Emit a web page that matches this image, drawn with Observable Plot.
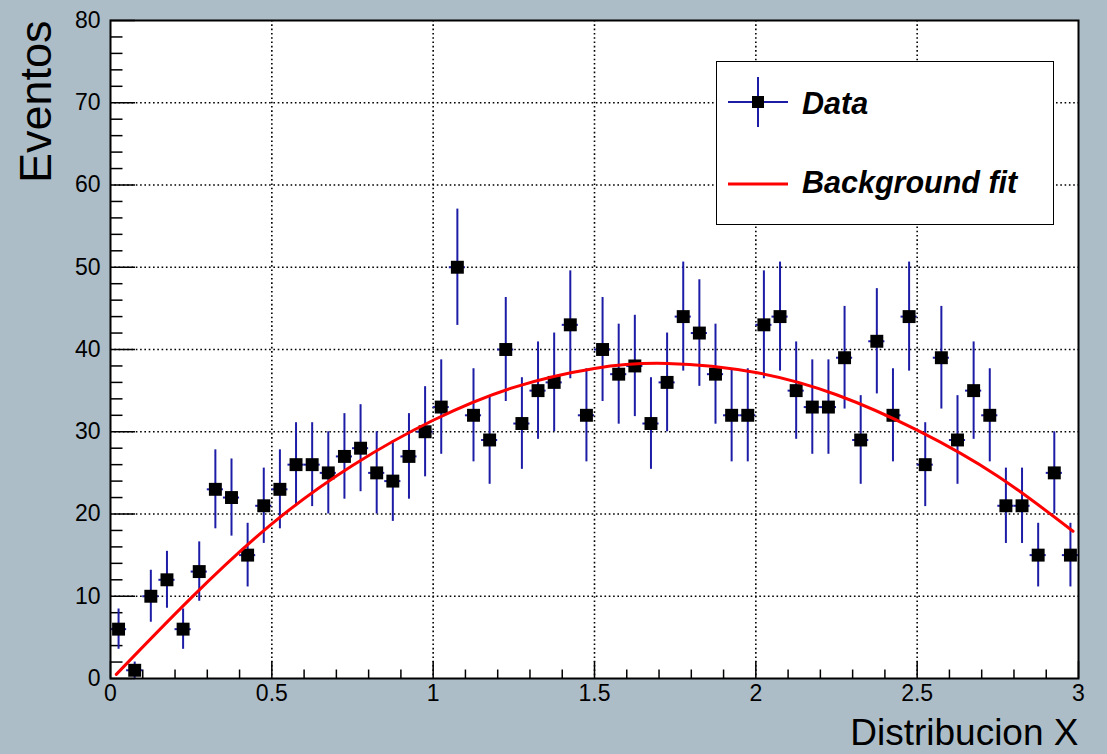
<!DOCTYPE html>
<html><head><meta charset="utf-8">
<script src="https://cdn.jsdelivr.net/npm/d3@7"></script>
<script src="https://cdn.jsdelivr.net/npm/@observablehq/plot@0.6"></script>
<style>
html,body{margin:0;padding:0;background:#adbdc7;}
#wrap{position:relative;width:1107px;height:754px;font-family:"Liberation Sans",Arial,sans-serif;overflow:hidden;}
#wrap svg.plot{position:absolute;left:0;top:0;}
#legend{position:absolute;left:716px;top:61px;width:338px;height:164px;box-sizing:border-box;border:1.5px solid #000;background:#fff;}
#legend svg{position:absolute;left:-1.5px;top:-1.5px;}
</style></head><body><div id="wrap"></div>
<script>
// Histogram bin centers (bin width 0.05)
const binCenters = [0.025,0.075,0.125,0.175,0.225,0.275,0.325,0.375,0.425,0.475,
  0.525,0.575,0.625,0.675,0.725,0.775,0.825,0.875,0.925,0.975,
  1.025,1.075,1.125,1.175,1.225,1.275,1.325,1.375,1.425,1.475,
  1.525,1.575,1.625,1.675,1.725,1.775,1.825,1.875,1.925,1.975,
  2.025,2.075,2.125,2.175,2.225,2.275,2.325,2.375,2.425,2.475,
  2.525,2.575,2.625,2.675,2.725,2.775,2.825,2.875,2.925,2.975];
const binHalfWidth = 0.025;
const counts = [6,1,10,12,6,13,23,22,15,21,
  23,26,26,25,27,28,25,24,27,30,
  33,50,32,29,40,31,35,36,43,32,
  40,37,38,31,36,44,42,37,32,32,
  43,44,35,33,33,39,29,41,32,44,
  26,39,29,35,32,21,21,15,25,15];
const errors = [2.45,1.00,3.16,3.46,2.45,3.61,4.80,4.69,3.87,4.58,
  4.80,5.10,5.10,5.00,5.20,5.29,5.00,4.90,5.20,5.48,
  5.74,7.07,5.66,5.39,6.32,5.57,5.92,6.00,6.56,5.66,
  6.32,6.08,6.16,5.57,6.00,6.63,6.48,6.08,5.66,5.66,
  6.56,6.63,5.92,5.74,5.74,6.24,5.39,6.40,5.66,6.63,
  5.10,6.24,5.39,5.92,5.66,4.58,4.58,3.87,5.00,3.87];
// Background fit curve
const fitX = [0.018,0.25,0.5,0.75,1.0,1.25,1.5,1.725,2.0,2.25,2.5,2.75,2.983];
const fitY = [0.5,9.8,18.8,25.9,31.4,35.4,37.7,38.3,37.2,34.5,30.2,24.6,17.9];
// Axes
const xTicks = [0,0.5,1,1.5,2,2.5,3];
const xTickLabels = ["0","0.5","1","1.5","2","2.5","3"];
const yTicks = [0,10,20,30,40,50,60,70,80];
const yTickLabels = ["0","10","20","30","40","50","60","70","80"];
const xMinor = d3.range(1,30).map(i=>i/10).filter(v=>Math.abs(v*2-Math.round(v*2))>1e-6);
const yMinor = d3.range(2,80,2).filter(v=>v%10!==0);
const xGrid = [0.5,1,1.5,2,2.5];
const yGrid = [10,20,30,40,50,60,70];

const W = 1107, H = 754, mL = 110, mR = 29, mT = 20, mB = 76;
const plotW = W - mL - mR, plotH = H - mT - mB;
const blue = "#1c1ca6";
const gridStyle = {stroke: "black", strokeOpacity: 1, strokeWidth: 1.6, strokeDasharray: "1.6,2.7"};

const data = binCenters.map((x,i)=>({x, y: counts[i], e: errors[i]}));
const fit = fitX.map((x,i)=>({x, y: fitY[i]}));

const chart = Plot.plot({
  width: W, height: H,
  marginLeft: mL, marginRight: mR, marginTop: mT, marginBottom: mB,
  style: {background: "transparent", fontFamily: "'Liberation Sans', Arial, sans-serif", color: "black"},
  x: {domain: [0,3]},
  y: {domain: [0,80]},
  marks: [
    Plot.frame({fill: "white"}),
    Plot.gridX(xGrid, gridStyle),
    Plot.gridY(yGrid, gridStyle),
    Plot.tickX(xTicks, {x: d=>d, insetTop: plotH - 17, stroke: "black", strokeWidth: 1.5}),
    Plot.tickX(xMinor, {x: d=>d, insetTop: plotH - 8.5, stroke: "black", strokeWidth: 1.5}),
    Plot.tickY(yTicks, {y: d=>d, insetRight: plotW - 25, stroke: "black", strokeWidth: 1.5}),
    Plot.tickY(yMinor, {y: d=>d, insetRight: plotW - 12.5, stroke: "black", strokeWidth: 1.5}),
    Plot.axisX(xTicks, {tickSize: 0, tickPadding: 6, fontSize: 23, tickFormat: (d,i)=>xTickLabels[i], label: null}),
    Plot.axisY(yTicks, {tickSize: 0, tickPadding: 10, fontSize: 23, tickFormat: (d,i)=>yTickLabels[i], label: null}),
    Plot.ruleX(data, {x: "x", y1: d=>d.y - d.e, y2: d=>d.y + d.e, stroke: blue, strokeWidth: 2}),
    Plot.ruleY(data, {y: "y", x1: d=>d.x - binHalfWidth, x2: d=>d.x + binHalfWidth, stroke: blue, strokeWidth: 2}),
    Plot.dot(data, {x: "x", y: "y", symbol: "square", r: 7.3, fill: "black", stroke: "none"}),
    Plot.line(fit, {x: "x", y: "y", curve: "natural", stroke: "#ff0000", strokeWidth: 3}),
    Plot.frame({stroke: "black", strokeWidth: 2}),
    Plot.text(["Eventos"], {frameAnchor: "top-left", rotate: -90, dx: -74, textAnchor: "end", lineAnchor: "middle", fontSize: 45, fill: "black"}),
    Plot.text(["Distribucion X"], {frameAnchor: "bottom-right", dy: 55, textAnchor: "end", lineAnchor: "middle", fontSize: 37, fill: "black"})
  ]
});
chart.classList.add("plot");
const wrap = document.getElementById("wrap");
wrap.appendChild(chart);

// Legend
const legend = document.createElement("div");
legend.id = "legend";
legend.innerHTML = `<svg width="338" height="164" xmlns="http://www.w3.org/2000/svg">
  <line x1="12" x2="72" y1="41" y2="41" stroke="${blue}" stroke-width="2"/>
  <line x1="42" x2="42" y1="16" y2="66" stroke="${blue}" stroke-width="2"/>
  <rect x="36" y="35" width="12" height="12" fill="black"/>
  <line x1="12" x2="72" y1="123" y2="123" stroke="#ff0000" stroke-width="3"/>
  <text x="86" y="53" font-family="'Liberation Sans', Arial, sans-serif" font-size="30.5" font-weight="bold" font-style="italic">Data</text>
  <text x="86" y="132" font-family="'Liberation Sans', Arial, sans-serif" font-size="30.5" font-weight="bold" font-style="italic">Background fit</text>
</svg>`;
wrap.appendChild(legend);
</script>
</body></html>
